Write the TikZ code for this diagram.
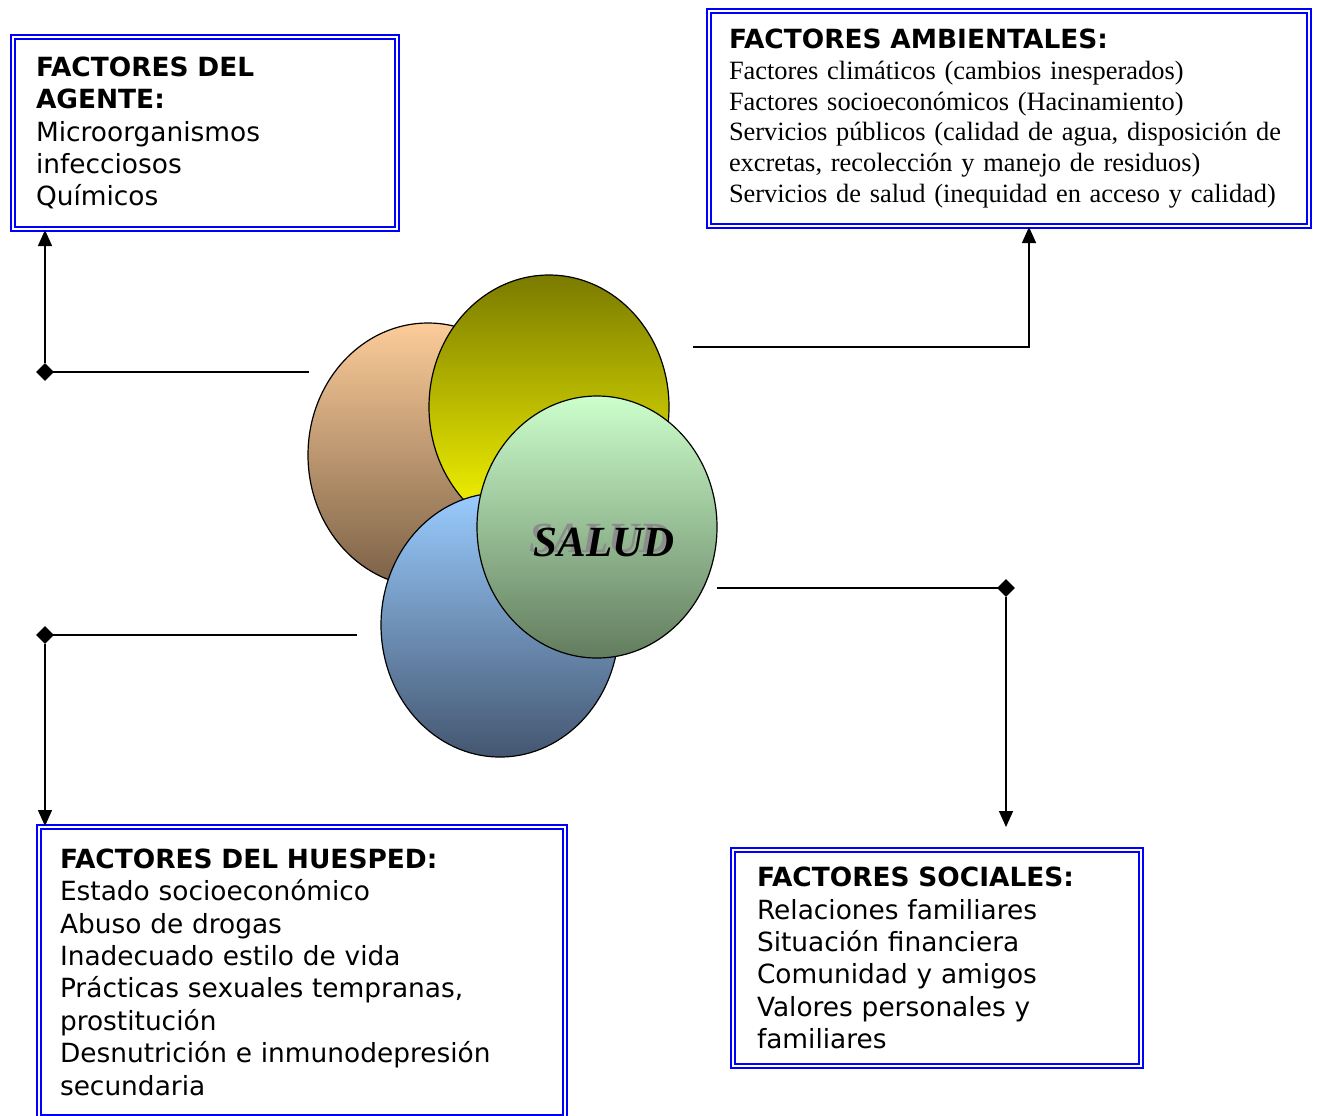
\documentclass[tikz,border=0pt]{standalone}
\usepackage{fontspec}
\setmainfont{Liberation Serif}
\newfontfamily\verdana{DejaVu Sans}
\usepackage{tikz}
\usetikzlibrary{positioning, arrows.meta, shapes.geometric}
\tikzset{every node/.append style={execute at begin node={\hyphenpenalty=10000\exhyphenpenalty=10000\relax}}}
\usepackage{xcolor}
\definecolor{durazno}{RGB}{252,204,153}
\definecolor{cafe}{RGB}{122,96,70}
\definecolor{oliva}{RGB}{122,122,0}
\definecolor{amarillo}{RGB}{255,255,0}
\definecolor{celeste}{RGB}{153,204,255}
\definecolor{azuloscuro}{RGB}{68,86,112}
\definecolor{verdeclaro}{RGB}{204,255,204}
\definecolor{verdeoscuro}{RGB}{98,124,94}
\tikzset{
  caja/.style={draw=blue, double, double distance=1pt, line width=1pt, anchor=north west, align=left, inner ysep=2pt, font=\verdana\fontsize{13.2}{16.2}\selectfont},
  punta/.style={diamond, fill=black, inner sep=0pt, minimum size=9pt},
  conector/.style={line width=0.7pt},
  flecha/.style={conector, -{Triangle[length=8pt, width=7pt]}},
  esfera/.style={draw=black, line width=0.6pt}
}

\begin{document}
\begin{tikzpicture}[x=0.5pt, y=-0.5pt]
  \useasboundingbox (0,0) rectangle (1320,1115);
  \clip (0,0) rectangle (1320,1115);

  % las cuatro esferas, de atras hacia delante
  \draw[esfera, top color=durazno, bottom color=cafe] (428,455) ellipse [x radius=60pt, y radius=66pt];
  \draw[esfera, top color=oliva, bottom color=amarillo] (549,407) ellipse [x radius=60pt, y radius=66pt];
  \draw[esfera, top color=celeste, bottom color=azuloscuro] (500,625) ellipse [x radius=59.5pt, y radius=66pt];
  \draw[esfera, top color=verdeclaro, bottom color=verdeoscuro] (597,527) ellipse [x radius=60pt, y radius=65.5pt];
  % sombra gris detras del texto
  \node (salud) [font=\fontsize{21.5}{24}\selectfont\bfseries\itshape] at (604,540)
    {\makebox[0pt][l]{\hspace{-2pt}\raisebox{2pt}{\color{black!45}SALUD}}SALUD};

  \node (agente) [caja, minimum width=192pt, minimum height=96pt, inner xsep=11.5pt, text width=169pt] at (12,36)
    {{\bfseries FACTORES DEL}\\ {\bfseries AGENTE:}\\ Microorganismos\\ infecciosos\\ Químicos};
  \node (ambient) [caja, minimum width=300pt, minimum height=107.5pt, inner xsep=10pt, text width=280pt, font=\rmfamily\fontsize{13.2}{15.4}\selectfont] at (708,10)
    {{\verdana\bfseries FACTORES AMBIENTALES:}\\ Factores climáticos (cambios inesperados)\\ Factores socioeconómicos (Hacinamiento)\\ Servicios públicos (calidad de agua, disposición de\\ excretas, recolección y manejo de residuos)\\ Servicios de salud (inequidad en acceso y calidad)};
  \node (huesped) [caja, minimum width=263pt, minimum height=145pt, inner xsep=10.5pt, text width=242pt] at (38,826)
    {{\bfseries FACTORES DEL HUESPED:}\\ Estado socioeconómico\\ Abuso de drogas\\ Inadecuado estilo de vida\\ Prácticas sexuales tempranas,\\ prostitución\\ Desnutrición e inmunodepresión\\ secundaria};
  \node (social) [caja, minimum width=204pt, minimum height=108pt, inner xsep=12pt, text width=180pt] at (732,849)
    {{\bfseries FACTORES SOCIALES:}\\ Relaciones familiares\\ Situación financiera\\ Comunidad y amigos\\ Valores personales y\\ familiares};

  % conectores
  \coordinate (sA) at (309,372);
  \node (dA) [punta] at (45,372) {};
  \draw[conector] (sA) -- (dA.center);
  \draw[flecha] (dA) -- (dA |- agente.south);

  \coordinate (sM) at (693,347);
  \coordinate (cM) at (1029,347);
  \draw[flecha] (sM) -- (cM) -- (cM |- ambient.south);

  \coordinate (sH) at (357,635);
  \node (dH) [punta] at (45,635) {};
  \draw[conector] (sH) -- (dH.center);
  \draw[flecha] (dH) -- (dH |- huesped.north);

  \coordinate (sS) at (717,588);
  \node (dS) [punta] at (1006,588) {};
  \coordinate (fS) at (1006,827);
  \draw[conector] (sS) -- (dS.center);
  \draw[flecha] (dS) -- (fS);
\end{tikzpicture}
\end{document}
